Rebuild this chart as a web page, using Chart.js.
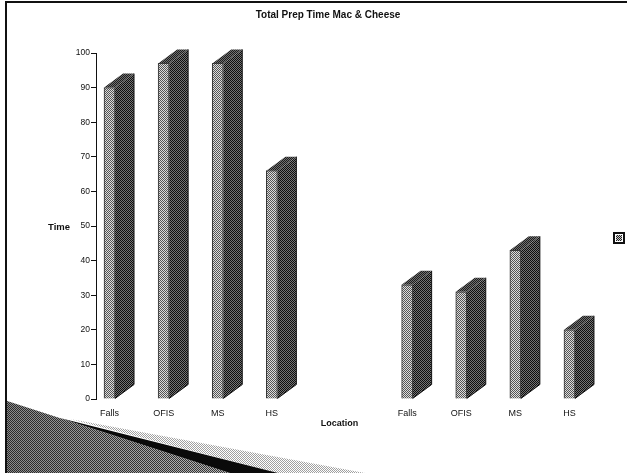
<!DOCTYPE html>
<html>
<head>
<meta charset="utf-8">
<style>
html,body{margin:0;padding:0;background:#fff;}
canvas{display:block;}
</style>
<script src="https://cdn.jsdelivr.net/npm/chart.js@4"></script>
</head>
<body>
<canvas id="mychart" width="627" height="473"></canvas>
<script>
const categories=['Falls','','OFIS','','MS','','HS','','','','','Falls','','OFIS','','MS','','HS'];
const prepTime=[90,null,97,null,97,null,66,null,null,null,null,33,null,31,null,43,null,20];
const yTicks=[0,10,20,30,40,50,60,70,80,90,100];

// dither tile, the scan is basically 1 bit so checker looks closest
const dither=(a,b)=>{
    const c=document.createElement('canvas');
    c.width=2;c.height=2;
    const g=c.getContext('2d');
    g.fillStyle=a;g.fillRect(0,0,2,2);
    g.fillStyle=b;g.fillRect(0,0,1,1);g.fillRect(1,1,1,1);
    return document.createElement('canvas').getContext('2d').createPattern(c,'repeat');
};
const frontFill=dither('#dcdcdc','#555555');
const sideFill=dither('#747474','#0e0e0e');
const topFill=dither('#707070','#1c1c1c');
const wedgeDark=dither('#b8b8b8','#383838');
const wedgeLight=dither('#ffffff','#a0a0a0');

const poly=(g,pts,fill)=>{
    g.beginPath();
    pts.forEach((p,i)=>i?g.lineTo(p[0],p[1]):g.moveTo(p[0],p[1]));
    g.closePath();
    g.fillStyle=fill;
    g.fill();
};

const slide={
    id:'slide',
    beforeDraw(chart){
        const g=chart.ctx;
        g.save();
        g.fillStyle='#fff';g.fillRect(0,0,627,473);
        // slide frame
        g.fillStyle='#111';
        g.fillRect(5,1,622,2);
        g.fillRect(5,1,2,472);
        // corner swoosh
        poly(g,[[70,419],[365,473],[278,473]],wedgeLight);
        poly(g,[[7,401],[230,473],[7,473]],wedgeDark);
        const shade=g.createLinearGradient(7,0,230,0);
        shade.addColorStop(0,'rgba(0,0,0,0.25)');
        shade.addColorStop(1,'rgba(0,0,0,0)');
        poly(g,[[7,401],[230,473],[7,473]],shade);
        poly(g,[[60,418],[278,473],[230,473]],'#0a0a0a');
        g.restore();
    },
    afterDatasetsDraw(chart){
        const g=chart.ctx;
        g.save();
        chart.getDatasetMeta(0).data.forEach((bar,i)=>{
            if(prepTime[i]==null)return;
            const r=bar.x+bar.width/2,l=bar.x-bar.width/2,dx=19,dy=14;
            poly(g,[[r,bar.y],[r+dx,bar.y-dy],[r+dx,bar.base-dy],[r,bar.base]],sideFill);
            poly(g,[[l,bar.y],[l+dx,bar.y-dy],[r+dx,bar.y-dy],[r,bar.y]],topFill);
            g.strokeStyle='#111';
            g.lineWidth=1;
            g.beginPath();
            g.moveTo(r,bar.base);g.lineTo(r+dx,bar.base-dy);g.lineTo(r+dx,bar.y-dy);
            g.stroke();
        });
        // y title is horizontal in the original
        g.fillStyle='#111';
        g.font='bold 9.5px "Liberation Sans"';
        g.textAlign='center';
        g.textBaseline='middle';
        g.fillText('Time',59,227);
        // legend marker
        g.strokeStyle='#111';
        g.lineWidth=2;
        g.strokeRect(614,233,10,10);
        g.fillStyle=dither('#cccccc','#222222');
        g.fillRect(616,235,6,6);
        g.restore();
    }
};

const ctx=document.getElementById('mychart').getContext('2d');
let mychart=new Chart(ctx,{
    type:'bar',
    plugins:[slide],
    data:{
        labels:categories,
        datasets:[
            {
                data:prepTime,
                backgroundColor:frontFill,
                borderColor:'#333',
                borderWidth:1,
                barThickness:11
            }
        ]
    },
    options:{
        responsive:false,
        animation:false,
        // left padding pushes the title over to where the original has it
        layout:{padding:{left:73,right:44}},
        plugins:{
            legend:{display:false},
            tooltip:{enabled:false},
            title:{
                display:true,
                text:'Total Prep Time Mac & Cheese',
                color:'#111',
                font:{family:'"Liberation Sans"',size:10,weight:'bold'},
                padding:{top:9,bottom:32}
            }
        },
        scales:{
            x:{
                afterFit(scale){scale.height=74;},
                grid:{display:false},
                border:{display:false},
                ticks:{
                    autoSkip:false,
                    maxRotation:0,
                    color:'#111',
                    padding:1,
                    font:{family:'"Liberation Sans"',size:9}
                },
                title:{
                    display:true,
                    text:'Location',
                    color:'#111',
                    font:{family:'"Liberation Sans"',size:9,weight:'bold'},
                    padding:{top:0,bottom:44}
                }
            },
            y:{
                min:yTicks[0],
                max:yTicks[yTicks.length-1],
                afterFit(scale){scale.width=23;},
                grid:{drawOnChartArea:false,color:'#111',tickLength:5},
                border:{color:'#111',width:1},
                ticks:{
                    stepSize:10,
                    color:'#111',
                    padding:1,
                    font:{family:'"Liberation Sans"',size:8.5}
                }
            }
        }
    }
});
</script>
</body>
</html>
